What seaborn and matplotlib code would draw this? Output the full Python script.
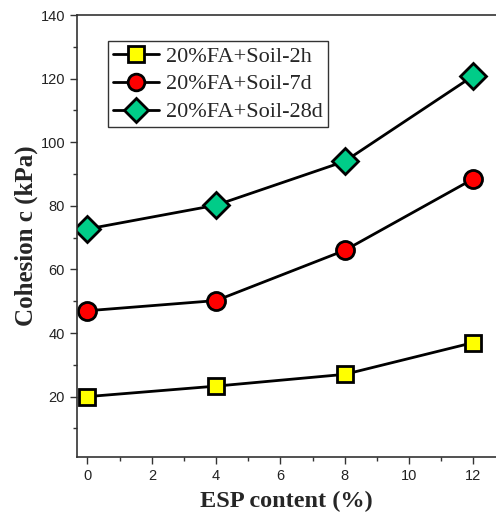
import matplotlib
matplotlib.use("Agg")
import matplotlib.pyplot as plt
import seaborn as sns
import pandas as pd
from matplotlib.ticker import MultipleLocator

esp = [0, 4, 8, 12]
c_2h = [20.0, 23.3, 27.0, 37.0]
c_7d = [47.0, 50.2, 66.0, 88.5]
c_28d = [72.7, 80.2, 94.0, 120.9]
labels = ["20%FA+Soil-2h", "20%FA+Soil-7d", "20%FA+Soil-28d"]
colors = ["#ffff00", "#ff0000", "#00cc88"]
markers = ["s", "o", "D"]
sizes = [11.5, 13, 13]

sns.set_style("ticks")
fig = plt.figure(figsize=(4.96, 5.21), dpi=100)
ax = fig.add_axes([0.155, 0.1228, 0.845, 0.8484])

for vals, lab, col, mk, ms in zip([c_2h, c_7d, c_28d], labels, colors, markers, sizes):
    df = pd.DataFrame({"x": esp, "y": vals})
    sns.lineplot(data=df, x="x", y="y", ax=ax, color="black", lw=2,
                 marker=mk, markersize=ms, markerfacecolor=col,
                 markeredgecolor="black", markeredgewidth=2, label=lab)

ax.set_xlim(-0.33, 12.7)
ax.set_ylim(1, 140)
ax.xaxis.set_major_locator(MultipleLocator(2))
ax.xaxis.set_minor_locator(MultipleLocator(1))
ax.yaxis.set_major_locator(MultipleLocator(20))
ax.yaxis.set_minor_locator(MultipleLocator(10))
ax.set_yticks([20, 40, 60, 80, 100, 120, 140])
ax.tick_params(which="major", direction="out", length=5, width=1, labelsize=10.5, color="#333333")
ax.tick_params(which="minor", direction="out", length=3, width=1, color="#333333")
for t in ax.get_xticklabels() + ax.get_yticklabels():
    t.set_fontfamily("Liberation Sans")
    t.set_color("#222222")

for s in ["left", "bottom", "top"]:
    ax.spines[s].set_color("#333333")
    ax.spines[s].set_linewidth(1.2)
ax.spines["right"].set_visible(False)

ax.set_xlabel("ESP content (%)", fontfamily="Liberation Serif", fontweight="bold", fontsize=17.5, labelpad=6)
ax.set_ylabel("Cohesion c (kPa)", fontfamily="Liberation Serif", fontweight="bold", fontsize=18, labelpad=2)

leg = ax.legend(loc="upper left", bbox_to_anchor=(0.074, 0.941), frameon=True, fancybox=False,
                edgecolor="black", prop={"family": "Liberation Serif", "size": 16},
                handlelength=2.1, borderpad=0.22, labelspacing=0.33, handletextpad=0.3, borderaxespad=0)
leg.get_frame().set_linewidth(1)
for h in leg.legend_handles:
    h.set_markersize(12)

fig.savefig("out.png", dpi=100)
